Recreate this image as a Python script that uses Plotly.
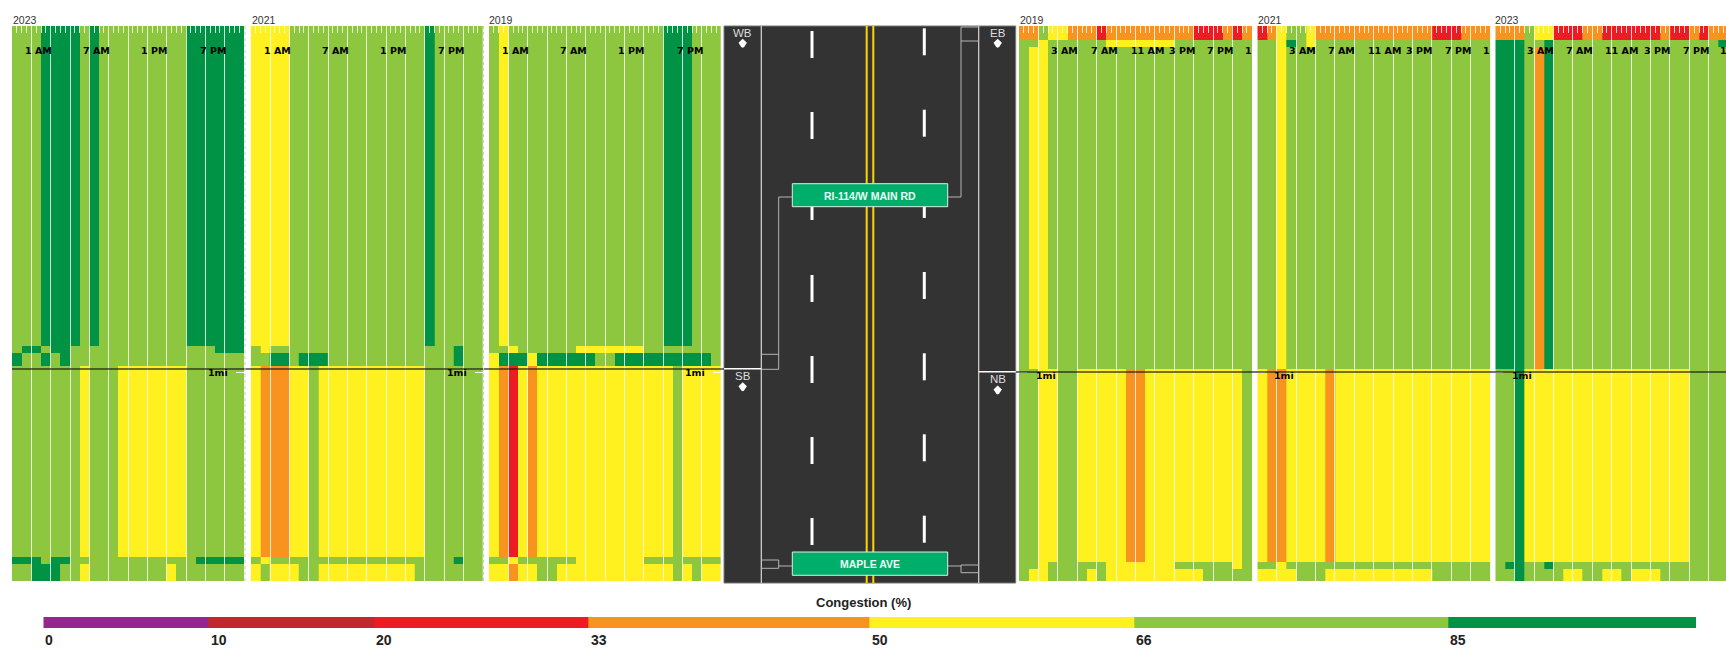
import plotly.graph_objects as go

W, H = 1726, 659

# ---------- data (congestion band per hour, 24 columns; one string per road segment row) ----------
BAND_VALUE = {"P": 5, "D": 15, "R": 26, "O": 42, "Y": 58, "L": 75, "G": 92}
BAND_EDGES = [0, 10, 20, 33, 50, 66, 85, 100]
BAND_COLORS = ["#93278F", "#C1272D", "#ED1C24", "#F7931E", "#FFF01F", "#8DC63F", "#009245"]
LEGEND_CELLS = [5, 15, 26, 42, 58, 75, 92]
YEARS_WEST = ["2023", "2021", "2019"]
YEARS_EAST = ["2019", "2021", "2023"]

# road position (miles from the top) of each row boundary
WEST_EDGES = [0, 0.933, 0.953, 0.991, 1.548, 1.569, 1.618]
EAST_EDGES = [0, 0.041, 0.061, 1.000, 1.563, 1.583, 1.618]

WEST_2023 = [
    "LLLGGGGLGLLLLLLLLLGGGGGG",
    "LGGLGGLLLLLLLLLLLLLLLGGG",
    "GLLGLGLLLLLLLLLLLLLLLLLL",
    "LLLLLLLYLLLYYYYYYYLLLLLL",
    "GGGLGGLLLLLLLLLLLLLGGGGG",
    "LLGGGLLYLLLLLLLLYLLLLLLL",
]
WEST_2021 = [
    "YYYYLLLLLLLLLLLLLLGLLLLL",
    "LYLLLLLLLLLLLLLLLLLLLGLL",
    "LLGGLGGGLLLLLLLLLLLLLGLL",
    "YOOOYYLYYYYYYYYYYYLLLLLL",
    "LYLLLLLLLLLLLLLLLLLLLGLL",
    "YLYYYLLYYYYYYYYYYLLLLLLL",
]
WEST_2019 = [
    "LYLLLLLLLLLLLLLLLLGGGLLL",
    "LLYLLLLLLYYYYYYYLLLLLLLL",
    "YGGGYGGGGGGLLGGGGGGGGGGL",
    "YORYOYYYYYYYYYYYYYYLYYYY",
    "LLYLLLLLLYYYYYYYLLLLLLLL",
    "YYOYYLLYYYYYYYYYYYYLYLYY",
]
EAST_2019 = [
    "OOLYYOOOROOOOOOOOORRRORO",
    "LLYLLLLLLYYYYYYYLLLLLLLL",
    "LYYLLLLLLLLLLLLLLLLLLLLL",
    "LLYYLLYYYYYOOYYYYYYYYYYL",
    "LLYLLLLLLYYYYYYYLLLLLLYL",
    "LYYLLLLYLYYYYYYYYYYLLLLL",
]
EAST_2021 = [
    "ROYLLYOOOOOOOOOOOORRROOO",
    "LLYGLYLLLLLLLLLLLLLLLLLL",
    "LLYLLLLLLLLLLLLLLLLLLLLL",
    "YOOYYYYOYYYYYYYYYYYYYYYY",
    "LLYLLLLLLLLLLLLLLLLLLLLL",
    "YYYYLLLYYYYYYYYYYYLLLLLL",
]
EAST_2023 = [
    "OOOLYYRRROORRRRRRORROROO",
    "GGGLLGLLLLLLLLLLLLLLLLLG",
    "GGGLOGLLLLLLLLLLLLLLLLLL",
    "LLGYYYYYYYYYYYYYYYYYLLLL",
    "LGGLLGLLLLLLLLLLLLLLLLLL",
    "LLGLLLLYYLLYYLYYYLLLLLLL",
]
PANELS = [
    (YEARS_WEST[0], WEST_2023, WEST_EDGES), (YEARS_WEST[1], WEST_2021, WEST_EDGES),
    (YEARS_WEST[2], WEST_2019, WEST_EDGES), (YEARS_EAST[0], EAST_2019, EAST_EDGES),
    (YEARS_EAST[1], EAST_2021, EAST_EDGES), (YEARS_EAST[2], EAST_2023, EAST_EDGES),
]
HOUR_TEXT_WEST = ["1 AM", "7 AM", "1 PM", "7 PM"]
HOUR_POS_WEST = [2.72, 8.76, 14.7, 20.76]
HOUR_TEXT_EAST = ["3 AM", "7 AM", "11 AM", "3 PM", "7 PM", "1"]
HOUR_POS_EAST = [
    [4.74, 8.77, 13.2, 16.8, 20.7, 23.7],
    [4.68, 8.7, 13.1, 16.7, 20.7, 23.65],
    [4.68, 8.66, 12.97, 16.65, 20.7, 23.5],
]
MILE_MARK = 1.01
ROAD_NAMES = ["RI-114/W MAIN RD", "MAPLE AVE"]
DIRECTIONS = ["WB", "SB", "EB", "NB"]

# ---------- layout in page pixels ----------
PANEL_PX = [(12, 244), (250.7, 483), (489, 720.7), (1019, 1252.7), (1257.3, 1490.4), (1495.3, 1726)]
TITLE_PX = [10.5, 249.5, 487.2, 1017.5, 1255.5, 1493.2]
TOP, BOTTOM = 26, 581
SANS = "DejaVu Sans, Verdana, sans-serif"
ARIAL = "Liberation Sans, Arial, sans-serif"


def fx(p):
    return p / W


def fy(p):
    return 1 - p / H


scale = []
for i, c in enumerate(BAND_COLORS):
    a, b = BAND_EDGES[i] / 100, BAND_EDGES[i + 1] / 100
    scale += [[a, c], [b, c]]

fig = go.Figure()
layout = {}
ann = []
shapes = []


def text(x, y, s, size=10, color="#000", family=SANS, xref="paper", anchor="center", bold=False):
    ann.append(dict(x=x, y=y, xref=xref, yref="paper", text=f"<b>{s}</b>" if bold else s, showarrow=False,
                    xanchor=anchor, yanchor="middle", font=dict(size=size, color=color, family=family)))


def line(x0, y0, x1, y1, color, width=1, dash=None):
    shapes.append(dict(type="line", xref="paper", yref="paper", x0=fx(x0), y0=fy(y0), x1=fx(x1), y1=fy(y1),
                       line=dict(color=color, width=width, dash=dash)))


def rect(x0, y0, x1, y1, fill, color=None, width=0):
    shapes.append(dict(type="rect", xref="paper", yref="paper", x0=fx(x0), y0=fy(y0), x1=fx(x1), y1=fy(y1),
                       fillcolor=fill, line=dict(color=color or fill, width=width)))


GRID = "rgba(255,255,255,0.8)"
for k, (year, rows, edges) in enumerate(PANELS):
    n = k + 1
    suf = "" if n == 1 else str(n)
    z = [[BAND_VALUE[ch] for ch in r] for r in rows]
    fig.add_trace(go.Heatmap(z=z, x=list(range(25)), y=edges, zmin=0, zmax=100, colorscale=scale,
                             showscale=False, hoverinfo="skip", xaxis=f"x{suf}", yaxis=f"y{suf}"))
    x0, x1 = PANEL_PX[k]
    cell = 9.67 if k < 3 else 9.7
    west = k < 3
    layout[f"xaxis{suf}"] = dict(
        domain=[fx(x0), fx(x1)], range=[0, (x1 - x0) / cell], anchor=f"y{suf}", side="top",
        showgrid=False, zeroline=False, showline=False, showticklabels=False,
        ticks="inside", tickmode="linear", tick0=0, dtick=2, ticklen=BOTTOM - TOP,
        tickcolor=GRID, tickwidth=1.4,
        minor=dict(ticks="inside", tick0=0, dtick=0.5, ticklen=7, tickcolor=GRID, tickwidth=1, showgrid=False),
    )
    layout[f"yaxis{suf}"] = dict(
        domain=[fy(BOTTOM), fy(TOP)], range=[edges[-1], 0], anchor=f"x{suf}",
        side="right" if west else "left", showgrid=False, zeroline=False, showline=False,
        ticks="inside", ticklen=8, tickcolor="white", tickwidth=1.4,
        tickmode="array", tickvals=[MILE_MARK], showticklabels=False,
    )
    text(fx(TITLE_PX[k]), fy(20.5), year, size=10.5, color="#333", family=ARIAL, anchor="left")
    if west:
        for s, p in zip(HOUR_TEXT_WEST, HOUR_POS_WEST):
            text(p, fy(50), s, size=9.5, xref=f"x{suf}", bold=True)
        text(fx(x1 - 14), fy(372.7), "1mi", size=9.5, anchor="right", bold=True)
    else:
        for s, p in zip(HOUR_TEXT_EAST, HOUR_POS_EAST[k - 3]):
            text(p, fy(50), s, size=9.5, xref=f"x{suf}", bold=True)
        text(fx(x0 + 15), fy(375.7), "1mi", size=9.5, anchor="left", bold=True)

# congestion legend on its own linear 0-100 axis
fig.add_trace(go.Heatmap(z=[LEGEND_CELLS], x=BAND_EDGES, y=[0, 1], zmin=0, zmax=100, colorscale=scale,
                         showscale=False, hoverinfo="skip", xaxis="x7", yaxis="y7"))
layout["xaxis7"] = dict(domain=[fx(43.3), fx(1696)], range=[0, 100], anchor="y7", visible=False)
layout["yaxis7"] = dict(domain=[fy(628), fy(617)], range=[0, 1], anchor="x7", visible=False)
for v in BAND_EDGES[:-1]:
    text(v, fy(639.5), str(v), size=14, color="#222", family=ARIAL, xref="x7", anchor="left", bold=True)
text(fx(863), fy(602), "Congestion (%)", size=13, color="#222", family=ARIAL, bold=True)

# road illustration
ROAD = "#333333"
rect(724, 26, 1015.7, 583, ROAD, "#777", 1)
line(761.3, 26, 761.3, 583, "#d8d8d8", 1.2)
line(978.7, 26, 978.7, 583, "#d8d8d8", 1.2)
line(866.7, 26, 866.7, 583, "#FFD400", 2)
line(873.3, 26, 873.3, 583, "#FFD400", 2)
for y in [31, 112, 193, 275, 356, 437, 518]:
    line(812, y, 812, y + 27, "white", 3)
for y in [28.3, 109.7, 191, 272, 353.3, 434.3, 515.7]:
    line(924.3, y, 924.3, y + 27, "white", 3)

CONN = "#b5b5b5"
for seg in [
    (792, 197, 778.7, 197), (778.7, 197, 778.7, 369.3), (778.7, 354.3, 761.3, 354.3), (778.7, 369.3, 761.3, 369.3),
    (948, 197, 961, 197), (961, 197, 961, 27), (961, 27, 978.7, 27), (961, 41, 978.7, 41),
    (792, 566, 778.7, 566), (778.7, 560, 778.7, 568.3), (778.7, 560, 761.3, 560), (778.7, 568.3, 761.3, 568.3),
    (948, 566, 961, 566), (961, 565, 961, 572.7), (961, 565, 978.7, 565), (961, 572.7, 978.7, 572.7),
]:
    line(*seg, CONN, 1)

SIGN = "#00AE6B"
rect(792.3, 183.7, 947.7, 206.7, SIGN, "#dfeee8", 1)
rect(792.3, 552, 947.7, 575.3, SIGN, "#dfeee8", 1)
text(fx(870), fy(195.5), ROAD_NAMES[0], size=10.5, color="#eafff5", family=ARIAL, bold=True)
text(fx(870), fy(563.5), ROAD_NAMES[1], size=10.5, color="#eafff5", family=ARIAL, bold=True)

line(724, 368.7, 761.3, 368.7, "white", 1.5)
line(978.7, 371.7, 1015.7, 371.7, "white", 1.5)
for (name, cx, ty, dy) in [(DIRECTIONS[0], 742.7, 33, 43.3), (DIRECTIONS[1], 742.7, 376, 386.7),
                           (DIRECTIONS[2], 997.7, 33, 43.3), (DIRECTIONS[3], 997.7, 379.3, 390)]:
    text(fx(cx), fy(ty), name, size=11.5, color="#ddd", family=ARIAL)
    pts = [(cx, dy - 4.5), (cx + 4.2, dy - 0.5), (cx + 1.5, dy + 3.6), (cx, dy + 4.5), (cx - 1.5, dy + 3.6), (cx - 4.2, dy - 0.5)]
    path = "M" + " L".join(f"{fx(a)},{fy(b)}" for a, b in pts) + " Z"
    shapes.append(dict(type="path", xref="paper", yref="paper", path=path, fillcolor="white", line=dict(width=0)))

# 1-mile rule and dashed panel edges
line(12, 369, 724, 369, "rgba(25,25,25,0.8)", 1.5)
line(1016, 372, 1726, 372, "rgba(25,25,25,0.8)", 1.5)
line(245, 26, 245, 581, "#c9c9c9", 1, "dot")
line(483.5, 26, 483.5, 581, "#c9c9c9", 1, "dot")

fig.update_layout(width=W, height=H, margin=dict(l=0, r=0, t=0, b=0), paper_bgcolor="white", plot_bgcolor="white",
                  showlegend=False, annotations=ann, shapes=shapes, **layout)

fig.write_html("out.html", config={"displayModeBar": False},
               post_script="document.body.style.margin='0';document.body.style.overflow='hidden';")
